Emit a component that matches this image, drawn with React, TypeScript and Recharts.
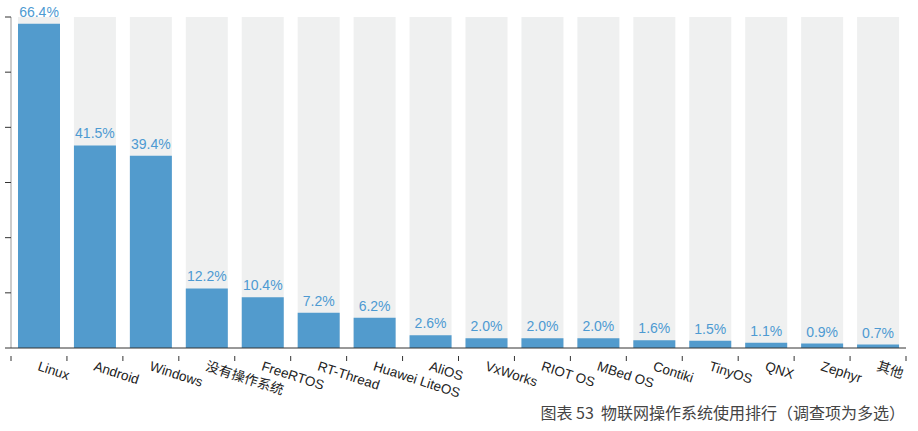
import { Bar, BarChart, LabelList, XAxis, YAxis } from "recharts";

const osNames = [
  "Linux",
  "Android",
  "Windows",
  "没有操作系统",
  "FreeRTOS",
  "RT-Thread",
  "Huawei LiteOS",
  "AliOS",
  "VxWorks",
  "RIOT OS",
  "MBed OS",
  "Contiki",
  "TinyOS",
  "QNX",
  "Zephyr",
  "其他",
];
const usageShare = [66.4, 41.5, 39.4, 12.2, 10.4, 7.2, 6.2, 2.6, 2.0, 2.0, 2.0, 1.6, 1.5, 1.1, 0.9, 0.7];
const yTicks = [0, 11.3, 22.6, 33.9, 45.2, 56.5, 67.8];
const caption = "图表 53  物联网操作系统使用排行（调查项为多选）";

const chartData = osNames.map((name, i) => ({ name, value: usageShare[i] }));

const FONT = '"Liberation Sans", Arial, "Noto Sans CJK SC", sans-serif';
const BAND = (906 - 11) / osNames.length;

function CategoryTick(props: any) {
  const { x, y, payload, index } = props;
  const isLast = index === osNames.length - 1;
  return (
    <g>
      <line x1={x - BAND / 2} y1={y} x2={x - BAND / 2} y2={y + 5} stroke="#333" />
      {isLast && <line x1={x + BAND / 2} y1={y} x2={x + BAND / 2} y2={y + 5} stroke="#333" />}
      <text
        x={0}
        y={0}
        transform={`translate(${x - 2}, ${y + 14}) rotate(18)`}
        textAnchor="start"
        fontSize={13.5}
        fontFamily={FONT}
        fill="#222"
      >
        {payload.value}
      </text>
    </g>
  );
}

function BlankTick() {
  return <g />;
}

export default function App() {
  return (
    <div style={{ position: "fixed", left: 0, top: 0, width: 918, height: 431, background: "#fff" }}>
      <BarChart
        width={918}
        height={431}
        data={chartData}
        margin={{ top: 17, right: 12, bottom: 0, left: 0 }}
        barSize={42}
      >
        <YAxis
          width={11}
          domain={[0, 67.8]}
          ticks={yTicks}
          interval={0}
          axisLine={{ stroke: "#999" }}
          tickLine={{ stroke: "#333" }}
          tickSize={6}
          tick={<BlankTick />}
        />
        <XAxis
          dataKey="name"
          height={83}
          interval={0}
          axisLine={{ stroke: "#333" }}
          tickLine={false}
          tick={<CategoryTick />}
        />
        <Bar
          dataKey="value"
          fill="#529bcd"
          background={{ fill: "#eff0f0" }}
          isAnimationActive={false}
        >
          <LabelList
            dataKey="value"
            position="top"
            offset={7}
            formatter={(v: any) => `${Number(v).toFixed(1)}%`}
            style={{ fill: "#4d9ad2", fontSize: 14, fontFamily: FONT }}
          />
        </Bar>
      </BarChart>
      <div
        style={{
          position: "absolute",
          right: 13,
          top: 402,
          fontSize: 16,
          fontFamily: '"Noto Sans CJK SC", sans-serif',
          color: "#444",
          whiteSpace: "pre",
          lineHeight: "20px",
        }}
      >
        {caption}
      </div>
    </div>
  );
}
